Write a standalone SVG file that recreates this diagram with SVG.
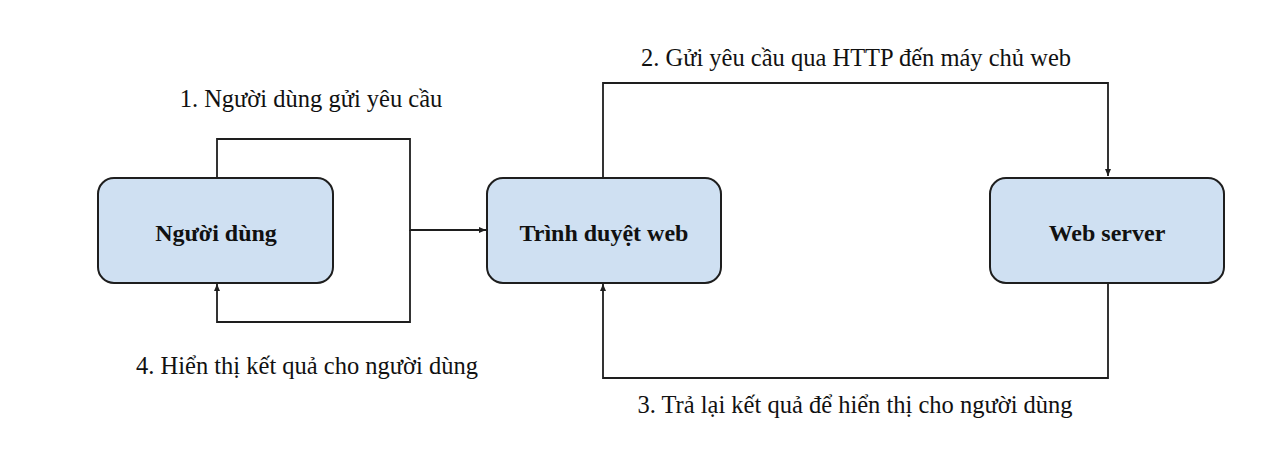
<svg xmlns="http://www.w3.org/2000/svg" width="1288" height="458" viewBox="0 0 1288 458">
<style>
.box{fill:#cfe0f2;stroke:#1e1e1e;stroke-width:2}
.lbl{font-family:"Liberation Serif","Times New Roman",serif;font-weight:bold;font-size:24px;fill:#111;text-anchor:middle}
.cap{font-family:"Liberation Serif","Times New Roman",serif;font-size:24.5px;fill:#111;text-anchor:middle}
.c{fill:none;stroke:#1e1e1e;stroke-width:1.8}
</style>
<defs>
<marker id="ah" markerWidth="8" markerHeight="8" refX="7" refY="4" orient="auto" markerUnits="userSpaceOnUse">
<path d="M0,1 L7,4 L0,7 Z" fill="#1e1e1e"/>
</marker>
</defs>
<rect width="1288" height="458" fill="#fff"/>
<g id="connectors">
<path class="c" d="M217,177 V139 H410 V230 H486" marker-end="url(#ah)"/>
<path class="c" d="M410,230 V322 H217 V284" marker-end="url(#ah)"/>
<path class="c" d="M603,177 V83 H1108 V176" marker-end="url(#ah)"/>
<path class="c" d="M1108,283 V378 H603 V284" marker-end="url(#ah)"/>
</g>
<g id="labels">
<text class="cap" x="311" y="107">1. Người dùng gửi yêu cầu</text>
<text class="cap" x="856" y="66">2. Gửi yêu cầu qua HTTP đến máy chủ web</text>
<text class="cap" x="855" y="413">3. Trả lại kết quả để hiển thị cho người dùng</text>
<text class="cap" x="307" y="374">4. Hiển thị kết quả cho người dùng</text>
</g>
<g id="node-nguoidung">
<rect class="box" x="98" y="178" width="235" height="105" rx="16"/>
<text class="lbl" x="216" y="241">Người dùng</text>
</g>
<g id="node-trinhduyet">
<rect class="box" x="487" y="178" width="234" height="105" rx="16"/>
<text class="lbl" x="604" y="241">Trình duyệt web</text>
</g>
<g id="node-webserver">
<rect class="box" x="990" y="178" width="234" height="105" rx="16"/>
<text class="lbl" x="1107" y="241">Web server</text>
</g>
</svg>
